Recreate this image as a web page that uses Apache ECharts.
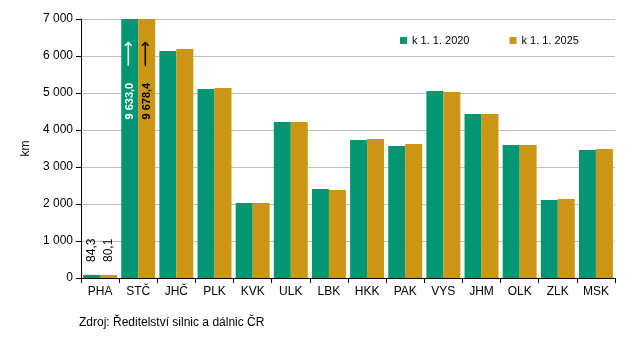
<!DOCTYPE html>
<html><head><meta charset="utf-8">
<script src="https://cdn.jsdelivr.net/npm/echarts@6/dist/echarts.min.js"></script>
<style>html,body{margin:0;padding:0;background:#fff}#c{width:639px;height:340px}</style>
</head><body><div id="c"></div>
<script>
const categories = ['PHA','STČ','JHČ','PLK','KVK','ULK','LBK','HKK','PAK','VYS','JHM','OLK','ZLK','MSK'];
const seriesNames = ['k 1. 1. 2020','k 1. 1. 2025'];
const values2020 = [84.3, 9633.0, 6135, 5108, 2027, 4216, 2405, 3730, 3568, 5054, 4432, 3595, 2108, 3459];
const values2025 = [80.1, 9678.4, 6189, 5135, 2027, 4216, 2378, 3757, 3622, 5027, 4432, 3595, 2135, 3486];
const yTicks = [0, 1000, 2000, 3000, 4000, 5000, 6000, 7000];
const sourceText = 'Zdroj: Ředitelství silnic a dálnic ČR';

const FONT = 'Liberation Sans, Arial, sans-serif';
const colors = ['#009671', '#CB9613'];
const fmt = v => v.toFixed(1).replace('.', ',').replace(/\B(?=(\d{3})+(?!\d))/g, ' ');

function mkData(vals, sIdx) {
  return vals.map((v, i) => {
    const d = { value: v };
    if (i === 0) {
      d.label = { show: true, position: 'top', rotate: 90, align: 'left', verticalAlign: 'middle',
        distance: 13, color: '#000', fontSize: 12, fontFamily: FONT, formatter: () => fmt(v) };
    } else if (v > yTicks[yTicks.length - 1]) {
      const c = sIdx === 0 ? '#fff' : '#000';
      d.label = { show: true, position: 'insideTop', rotate: 90, align: 'right', verticalAlign: 'middle',
        distance: 22, fontFamily: FONT,
        formatter: () => '{t|' + fmt(v) + '}{g|}{a|⟶}',
        rich: {
          t: { color: c, fontSize: 11, fontWeight: 'bold', fontFamily: FONT },
          g: { width: 16 },
          a: { color: sIdx === 0 ? '#e8fff8' : '#000', fontSize: 18, fontFamily: 'DejaVu Sans' }
        } };
    }
    return d;
  });
}

const chart = echarts.init(document.getElementById('c'), null, { renderer: 'canvas' });
chart.setOption({
  animation: false,
  color: colors,
  grid: { left: 81, right: 24, top: 19, bottom: 62, containLabel: false },
  legend: {
    data: seriesNames, left: 395, top: 30, itemWidth: 7, itemHeight: 7, itemGap: 40,
    icon: 'rect', textStyle: { fontFamily: FONT, fontSize: 11, color: '#000' }
  },
  xAxis: {
    type: 'category', data: categories,
    axisLine: { lineStyle: { color: '#000', width: 1 } },
    axisTick: { show: true, length: 5, lineStyle: { color: '#000' } },
    axisLabel: { fontFamily: FONT, fontSize: 12, color: '#000', margin: 8 }
  },
  yAxis: {
    type: 'value', min: 0, max: 7000, interval: 1000,
    name: 'km', nameLocation: 'middle', nameGap: 49, nameRotate: 90,
    nameTextStyle: { fontFamily: FONT, fontSize: 12, color: '#000' },
    axisLine: { show: true, lineStyle: { color: '#000', width: 1 } },
    axisTick: { show: true, length: 5, lineStyle: { color: '#000' } },
    axisLabel: { fontFamily: FONT, fontSize: 12, color: '#000', margin: 8,
      formatter: v => String(v).replace(/\B(?=(\d{3})+(?!\d))/g, ' ') },
    splitLine: { lineStyle: { color: '#c0c0c0', width: 1 } }
  },
  graphic: [{ type: 'text', left: 79, top: 317,
    style: { text: sourceText, fontFamily: FONT, fontSize: 12, fill: '#000' } }],
  series: [
    { name: seriesNames[0], type: 'bar', data: mkData(values2020, 0), barGap: '0%', barCategoryGap: '11%', clip: true },
    { name: seriesNames[1], type: 'bar', data: mkData(values2025, 1), barGap: '0%', barCategoryGap: '11%', clip: true }
  ]
});
</script></body></html>
